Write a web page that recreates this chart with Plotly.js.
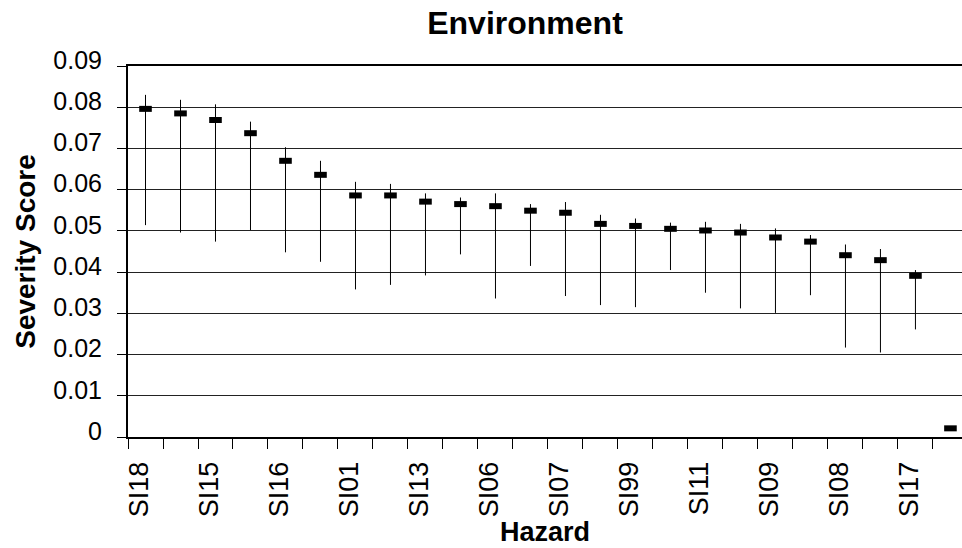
<!DOCTYPE html>
<html>
<head>
<meta charset="utf-8">
<script src="https://cdn.plot.ly/plotly-3.0.1.min.js"></script>
<style>
html,body{margin:0;padding:0;background:#fff;overflow:hidden;}
#chart{width:962px;height:548px;}
</style>
</head>
<body>
<div id="chart"></div>
<script>
// Hazard rank (1 = most severe); only every other hazard is labelled on the axis
const rank = [1,2,3,4,5,6,7,8,9,10,11,12,13,14,15,16,17,18,19,20,21,22,23,24];
const labelledRanks = [1,3,5,7,9,11,13,15,17,19,21,23];
const hazardLabels = ['SI18','SI15','SI16','SI01','SI13','SI06','SI07','SI99','SI11','SI09','SI08','SI17'];

// Severity score (point estimate) and its upper / lower bounds
const severity = [0.0796,0.0785,0.0769,0.0737,0.0670,0.0636,0.0586,0.0586,0.0571,0.0565,0.0560,0.0549,
                  0.0544,0.0517,0.0512,0.0505,0.0501,0.0496,0.0484,0.0474,0.0441,0.0429,0.0391,0.0021];
const upper    = [0.0830,0.0818,0.0807,0.0765,0.0703,0.0670,0.0619,0.0614,0.0591,0.0581,0.0591,0.0565,
                  0.0570,0.0539,0.0530,0.0520,0.0522,0.0517,0.0506,0.0490,0.0467,0.0456,0.0405,0.0021];
const lower    = [0.0514,0.0496,0.0474,0.0502,0.0448,0.0425,0.0358,0.0369,0.0392,0.0443,0.0336,0.0415,
                  0.0342,0.0320,0.0315,0.0405,0.0350,0.0312,0.0301,0.0344,0.0217,0.0205,0.0261,0.0021];
const yTicks = [0,0.01,0.02,0.03,0.04,0.05,0.06,0.07,0.08,0.09];

const plus  = severity.map((v,i)=>upper[i]-v);
const minus = severity.map((v,i)=>v-lower[i]);
const boundaries = rank.map(r=>r-0.5).concat([rank[rank.length-1]+0.5]);

const font = 'Arial, "Liberation Sans", sans-serif';

const trace = {
  type:'scatter', mode:'markers', x:rank, y:severity,
  marker:{symbol:'line-ew', size:9, color:'#000', line:{width:6, color:'#000'}},
  error_y:{type:'data', symmetric:false, array:plus, arrayminus:minus, width:0, thickness:1, color:'#000'},
  hoverinfo:'x+y', showlegend:false
};

const layout = {
  width:962, height:548,
  margin:{l:128, r:0, t:66, b:111},
  paper_bgcolor:'#fff', plot_bgcolor:'#fff',
  title:{text:'<b>Environment</b>', font:{family:font, size:32, color:'#000'},
         x:525/962, xref:'container', xanchor:'center', y:1-23/548, yref:'container', yanchor:'middle'},
  xaxis:{
    range:[0.5, 24.33], showgrid:false, zeroline:false,
    showline:true, linewidth:2, linecolor:'#000', mirror:true,
    tickmode:'array', tickvals:labelledRanks, ticktext:hazardLabels,
    ticks:'', tickangle:-90, tickfont:{family:font, size:27, color:'#000'},
    ticklabelstandoff:12, ticklabelshift:-6,
    minor:{tickmode:'array', tickvals:boundaries, ticks:'outside', ticklen:10, tickwidth:1, tickcolor:'#000', showgrid:false},
    title:{text:'<b>Hazard</b>', font:{family:font, size:27, color:'#000'}, standoff:0}
  },
  yaxis:{
    range:[0,0.09], tickmode:'array', tickvals:yTicks,
    showgrid:true, gridcolor:'#222', gridwidth:1, zeroline:false,
    showline:true, linewidth:2, linecolor:'#000',
    ticks:'outside', ticklen:9, tickcolor:'#000',
    tickfont:{family:font, size:25, color:'#000'},
    ticklabelstandoff:10, ticklabelshift:-6,
    title:{text:'<b>Severity Score</b>', font:{family:font, size:28, color:'#000'}, standoff:10}
  }
};

Plotly.newPlot('chart',[trace],layout,{displayModeBar:false, staticPlot:true});
</script>
</body>
</html>
